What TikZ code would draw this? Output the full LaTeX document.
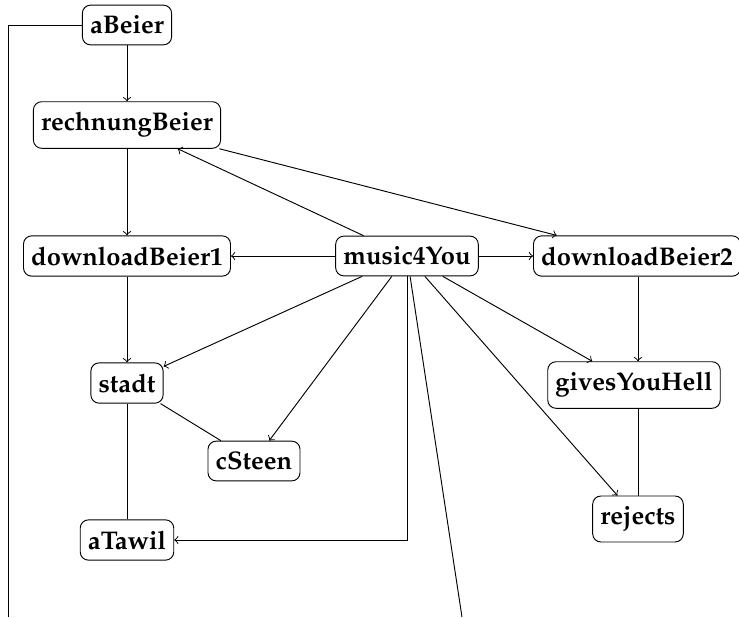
\documentclass[tikz,border=0pt]{standalone}
\usepackage[T1]{fontenc}
\usepackage{mathpazo}
\usetikzlibrary{positioning}

\begin{document}
\begin{tikzpicture}[x=0.015cm,y=-0.015cm,
    obj/.style={draw,rounded corners=3.5pt,font=\fontsize{10.9}{13}\selectfont\bfseries,
      inner xsep=3.3pt,inner ysep=4.6pt}]
  \useasboundingbox (0,0) rectangle (739,617);
  % nodes (pixel grid, y down)
  \foreach \n/\x/\y in {aBeier/127/25, rechnungBeier/127/125,
      downloadBeier1/127/256, music4You/407/256, downloadBeier2/637/256,
      stadt/127/383, cSteen/254/461, aTawil/127/540,
      givesYouHell/634/385, rejects/638/519}{
    \node[obj] (\n) at (\x,\y) {\n};
  }
  % loose ends at the lower edge
  \coordinate (endA) at (8,617);
  \coordinate (endM) at (462,617);
  % straight down
  \draw[->] (aBeier) -- (rechnungBeier);
  \draw[->] (rechnungBeier) -- (downloadBeier1);
  \draw[->] (downloadBeier1) -- (stadt);
  \draw[->] (downloadBeier2.south -| rejects) -- (rejects |- givesYouHell.north);
  \draw (givesYouHell.south -| rejects) -- (rejects);
  \draw (stadt) -- (aTawil);
  \draw (stadt) -- (cSteen);
  % fan out of music4You
  \foreach \t in {rechnungBeier,downloadBeier1,downloadBeier2,stadt,cSteen,
      givesYouHell,rejects}{
    \draw[->] (music4You) -- (\t);
  }
  \draw[->] (rechnungBeier) -- (downloadBeier2);
  \draw[->] (music4You) |- (aTawil);
  \draw (music4You) -- (endM);
  \draw (aBeier) -| (endA);
\end{tikzpicture}
\end{document}
